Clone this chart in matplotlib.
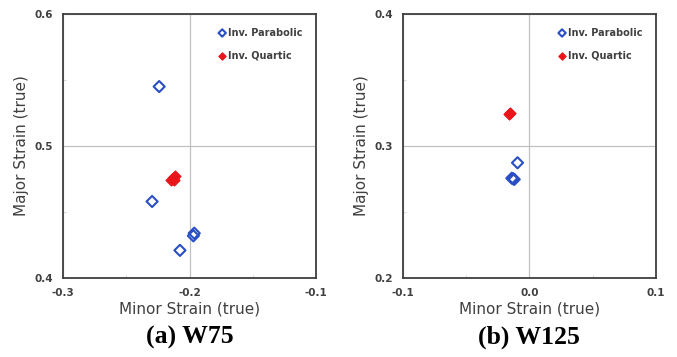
import numpy as np
from matplotlib import pyplot as plt
from matplotlib.ticker import MultipleLocator

# W75 panel
w75_parab_x = [-0.224, -0.2296, -0.2076, -0.1963, -0.197]
w75_parab_y = [0.545, 0.458, 0.421, 0.434, 0.432]
w75_quart_x = [-0.2146, -0.213, -0.2113, -0.2125]
w75_quart_y = [0.4739, 0.4755, 0.477, 0.4745]

# W125 panel
w125_parab_x = [-0.0094, -0.0139, -0.012, -0.0128]
w125_parab_y = [0.2873, 0.2756, 0.2747, 0.2752]
w125_quart_x = [-0.016, -0.0155]
w125_quart_y = [0.3243, 0.3250]

panels = [
    ('(a) W75', (-0.3, -0.1), (0.4, 0.6), ['-0.3', '-0.2', '-0.1'], ['0.4', '0.5', '0.6'],
     w75_parab_x, w75_parab_y, w75_quart_x, w75_quart_y),
    ('(b) W125', (-0.1, 0.1), (0.2, 0.4), ['-0.1', '0.0', '0.1'], ['0.2', '0.3', '0.4'],
     w125_parab_x, w125_parab_y, w125_quart_x, w125_quart_y),
]

blue = '#2a4fc4'
red = '#e8161b'
frame = '#3f3f3f'
txt = '#404040'

fig = plt.figure(figsize=(6.77, 3.57), dpi=100)
lefts = [0.093, 0.595]
for left, p in zip(lefts, panels):
    title, xl, yl, xt, yt, px, py, qx, qy = p
    ax = fig.add_axes([left, 0.221, 0.374, 0.740])
    ax.scatter(px, py, marker='D', s=32, facecolors='none', edgecolors=blue,
               linewidths=1.5, label='Inv. Parabolic', zorder=3)
    ax.scatter(qx, qy, marker='D', s=32, color=red, edgecolors=red,
               linewidths=0.8, label='Inv. Quartic', zorder=3)
    ax.set_xlim(*xl)
    ax.set_ylim(*yl)
    ax.set_xticks(np.linspace(xl[0], xl[1], 3))
    ax.set_yticks(np.linspace(yl[0], yl[1], 3))
    ax.set_xticklabels(xt, fontsize=7.5, fontweight='bold', color=txt)
    ax.set_yticklabels(yt, fontsize=7.5, fontweight='bold', color=txt)
    ax.xaxis.set_minor_locator(MultipleLocator(0.05))
    ax.yaxis.set_minor_locator(MultipleLocator(0.05))
    ax.tick_params(which='major', length=0, pad=7)
    ax.tick_params(which='minor', direction='in', length=2, color='#d0d0d0')
    ax.grid(True, which='major', color='#c0c0c0', linewidth=0.9)
    ax.set_axisbelow(True)
    for s in ax.spines.values():
        s.set_color(frame)
        s.set_linewidth(1.3)
    ax.set_xlabel('Minor Strain (true)', fontsize=11, color=txt, labelpad=3)
    ax.set_ylabel('Major Strain (true)', fontsize=11, color=txt, labelpad=4)
    leg = ax.legend(loc='upper right', frameon=False, handletextpad=0.1,
                    handlelength=1.0, labelspacing=1.3, borderaxespad=1.0,
                    prop={'weight': 'bold', 'size': 7})
    for t in leg.get_texts():
        t.set_color(txt)
    for h in leg.legend_handles:
        h.set_sizes([14])
    fig.text(left + 0.187, 0.055, title, ha='center', va='center',
             fontsize=18.5, fontweight='bold', family='Liberation Serif')

fig.savefig('out.png', dpi=100)
